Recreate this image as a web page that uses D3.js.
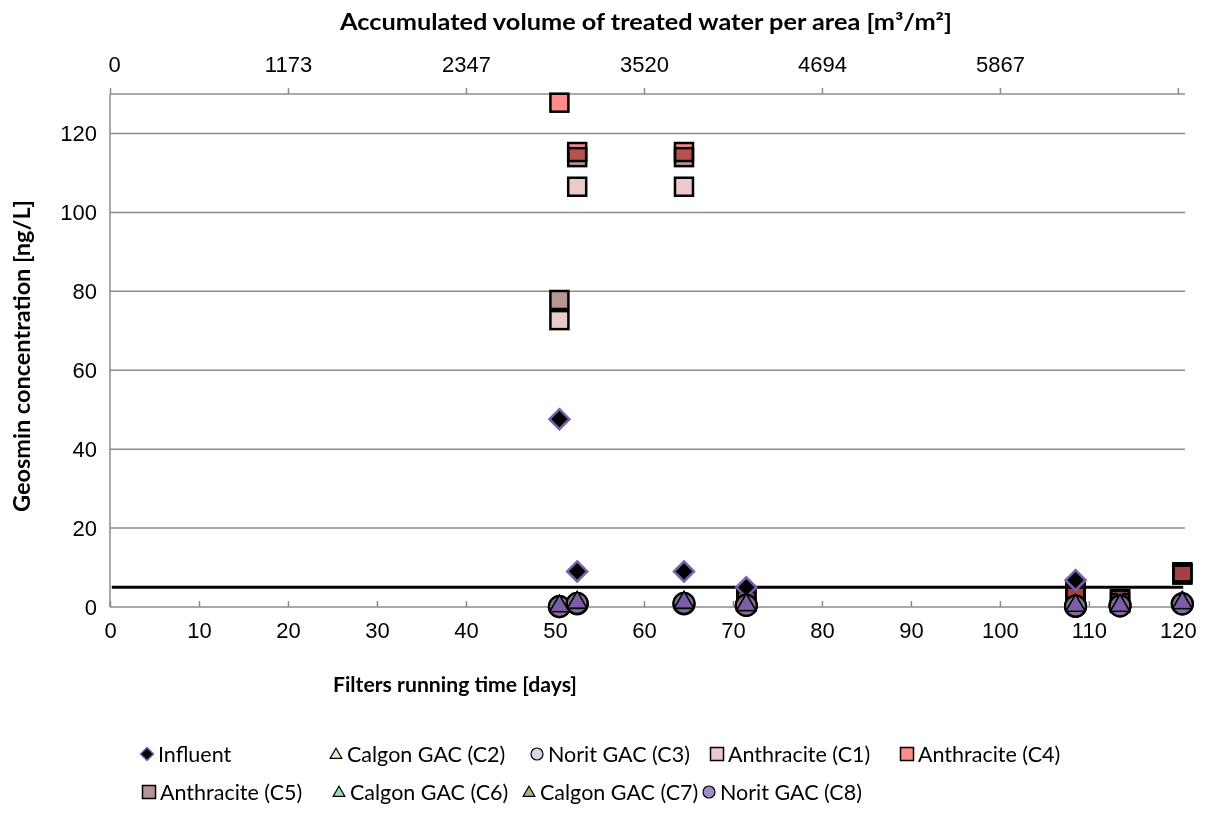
<!DOCTYPE html>
<html>
<head>
<meta charset="utf-8">
<script src="https://cdn.jsdelivr.net/npm/d3@7"></script>
<style>
  body { margin: 0; background: #fff; }
  svg { font-family: Lato, "Open Sans", sans-serif; }
  .sq { mix-blend-mode: multiply; }
</style>
</head>
<body>
<svg id="chart" width="1211" height="815"></svg>
<script>
// days of sampling
const days = [50.5, 52.5, 64.5, 71.5, 108.5, 113.5, 120.5];

// geosmin [ng/L]
const influent = [47.6, 9, 9, 5, 6.8, 1, 1.3];
const c1 = [72.7, 106.5, 106.5, 1.5, 3, 1, 8.2];
const c4 = [127.8, 115.3, 115.3, 2.6, 4.6, 2, 8.8];
const c5 = [77.8, 114, 114, 2.2, 3.8, 1.8, 8.5];
const c2 = [0.2, 1, 1, 0.5, 0.3, 0.4, 1];
const c3 = [0.1, 0.8, 0.8, 0.4, 0.2, 0.3, 0.8];
const c6 = [0.3, 1.2, 1.2, 0.6, 0.4, 0.4, 1.1];
const c7 = [0.2, 1.1, 1.1, 0.5, 0.3, 0.3, 1];
const c8 = [0.1, 0.9, 0.9, 0.4, 0.2, 0.3, 0.8];

const limitValue = 5;

const yTicks = [0, 20, 40, 60, 80, 100, 120];
const xTicks = d3.range(0, 121, 10);
const volumePerDay = 7040 / 120;
const topTicks = d3.range(0, 7), topLabels = ['0', '1173', '2347', '3520', '4694', '5867', ''];

const margin = {top: 94, right: 26, bottom: 208, left: 110};
const W = 1211, H = 815;
const fs = 22;

const svg = d3.select('#chart');

const x = d3.scaleLinear().domain([0, 120.8]).range([margin.left, W - margin.right]);
const y = d3.scaleLinear().domain([0, 130]).range([H - margin.bottom, margin.top]);
const xTop = d3.scaleLinear().domain([0, 120.8 * volumePerDay]).range(x.range());

const grid = '#8c8c8c';

// gridlines
svg.append('g').selectAll('line')
    .data(yTicks.concat([130]).filter(d => d > 0))
    .join('line')
    .attr('x1', x(0)).attr('x2', W - margin.right)
    .attr('y1', d => y(d)).attr('y2', d => y(d))
    .attr('stroke', grid).attr('stroke-width', 1.5);

// left axis
const yAxis = svg.append('g')
    .attr('transform', `translate(${margin.left},0)`)
    .call(d3.axisLeft(y).tickValues(yTicks).tickSize(0).tickPadding(13));
yAxis.select('.domain').attr('stroke', grid).attr('stroke-width', 1.5)
    .attr('d', `M0,${y(0)}V${y(130)}`);
yAxis.selectAll('text').attr('font-size', fs).attr('fill', '#000');

// bottom axis
const xAxis = svg.append('g')
    .attr('transform', `translate(0,${y(0)})`)
    .call(d3.axisBottom(x).tickValues(xTicks).tickSize(-6).tickPadding(15));
xAxis.select('.domain').attr('stroke', grid).attr('stroke-width', 1.5)
    .attr('d', `M${x(0)},0H${W - margin.right}`);
xAxis.selectAll('line').attr('stroke', grid).attr('stroke-width', 1.5);
xAxis.selectAll('text').attr('font-size', fs).attr('fill', '#000');

// top axis
const xTopAxis = svg.append('g')
    .attr('transform', `translate(0,${y(130)})`)
    .call(d3.axisTop(xTop).tickValues(topTicks.map(i => i * 20 * volumePerDay))
        .tickFormat((d, i) => topLabels[i]).tickSize(6).tickPadding(16));
xTopAxis.select('.domain').remove();
xTopAxis.selectAll('line').attr('stroke', grid).attr('stroke-width', 1.5);
xTopAxis.selectAll('text').attr('font-size', fs).attr('fill', '#000')
    .attr('dx', (d, i) => i === 0 ? 4 : 0);

// limit line
svg.append('line')
    .attr('x1', x(0.2)).attr('x2', x(120.6))
    .attr('y1', y(limitValue)).attr('y2', y(limitValue))
    .attr('stroke', '#000').attr('stroke-width', 3);

// marker shapes
const sym = (type, size) => d3.symbol().type(type).size(size)();
const series = [
  {name: 'Calgon GAC (C2)', vals: c2, shape: 'tri', fill: '#e4ead2'},
  {name: 'Norit GAC (C3)', vals: c3, shape: 'circle', fill: '#dcd3e6'},
  {name: 'Calgon GAC (C6)', vals: c6, shape: 'tri', fill: '#9fdcbc'},
  {name: 'Calgon GAC (C7)', vals: c7, shape: 'tri', fill: '#a3be82'},
  {name: 'Norit GAC (C8)', vals: c8, shape: 'circle', fill: '#a08cc8'},
  {name: 'Anthracite (C1)', vals: c1, shape: 'square', fill: '#ebcaca'},
  {name: 'Anthracite (C5)', vals: c5, shape: 'square', fill: '#b59595'},
  {name: 'Anthracite (C4)', vals: c4, shape: 'square', fill: '#ff8b8b'},
  {name: 'Influent', vals: influent, shape: 'diamond', fill: '#000'}
];

function drawMarker(sel, s, big) {
  if (s.shape === 'square') {
    const a = big ? 18 : 13;
    sel.append('rect').attr('class', big ? 'sq' : null)
      .attr('x', -a / 2).attr('y', -a / 2).attr('width', a).attr('height', a)
      .attr('fill', s.fill).attr('stroke', '#000').attr('stroke-width', big ? 2.5 : 1.5);
  } else if (s.shape === 'circle') {
    sel.append('circle').attr('r', big ? 10.5 : 6)
      .attr('fill', big ? '#7b7388' : s.fill)
      .attr('stroke', '#000').attr('stroke-width', big ? 2.2 : 1.2);
  } else if (s.shape === 'tri') {
    sel.append('path').attr('d', sym(d3.symbolTriangle, big ? 160 : 60))
      .attr('transform', big ? 'translate(0,0)' : 'translate(0,1)')
      .attr('fill', big ? '#7b5ea7' : s.fill).attr('fill-opacity', big ? 0.75 : 1)
      .attr('stroke', '#000').attr('stroke-width', 1.2);
  } else {
    sel.append('path').attr('d', big ? 'M0,-10L10,0L0,10L-10,0Z' : 'M0,-6.5L6.5,0L0,6.5L-6.5,0Z')
      .attr('fill', s.fill).attr('stroke', '#7a5fae').attr('stroke-width', big ? 2.5 : 1.5);
  }
}

const order = ['Anthracite (C1)', 'Anthracite (C5)', 'Anthracite (C4)', 'Influent',
  'Norit GAC (C3)', 'Norit GAC (C8)', 'Calgon GAC (C2)', 'Calgon GAC (C6)', 'Calgon GAC (C7)'];
order.forEach(n => {
  const s = series.find(d => d.name === n);
  svg.append('g').selectAll('g')
    .data(s.vals.map((v, i) => ({day: days[i], v})))
    .join('g')
    .attr('transform', d => `translate(${x(d.day)},${y(d.v)})`)
    .each(function() { drawMarker(d3.select(this), s, true); });
});

// titles
svg.append('text').attr('x', 340).attr('y', 30)
  .attr('font-size', 22).attr('font-weight', 'bold')
  .attr('textLength', 612).attr('lengthAdjust', 'spacingAndGlyphs')
  .text('Accumulated volume of treated water per area [m³/m²]');
svg.append('text').attr('x', 333).attr('y', 692)
  .attr('font-size', 21).attr('font-weight', 'bold')
  .attr('textLength', 244).attr('lengthAdjust', 'spacingAndGlyphs')
  .text('Filters running time [days]');
svg.append('text').attr('transform', `translate(30,512) rotate(-90)`)
  .attr('font-size', 22).attr('font-weight', 'bold')
  .attr('textLength', 312).attr('lengthAdjust', 'spacingAndGlyphs')
  .text('Geosmin concentration [ng/L]');

// legend
const legendItems = [
  {name: 'Influent', x: 147, y: 754},
  {name: 'Calgon GAC (C2)', x: 336, y: 754},
  {name: 'Norit GAC (C3)', x: 537, y: 754},
  {name: 'Anthracite (C1)', x: 717, y: 754},
  {name: 'Anthracite (C4)', x: 907, y: 754},
  {name: 'Anthracite (C5)', x: 149, y: 792},
  {name: 'Calgon GAC (C6)', x: 339, y: 792},
  {name: 'Calgon GAC (C7)', x: 529, y: 792},
  {name: 'Norit GAC (C8)', x: 709, y: 792}
];
const lg = svg.append('g').selectAll('g').data(legendItems).join('g')
  .attr('transform', d => `translate(${d.x},${d.y})`);
lg.each(function(d) {
  const s = series.find(e => e.name === d.name);
  drawMarker(d3.select(this), s, false);
  d3.select(this).append('text').attr('x', 11).attr('y', 8)
    .attr('font-size', 21.5).text(d.name);
});
</script>
</body>
</html>
